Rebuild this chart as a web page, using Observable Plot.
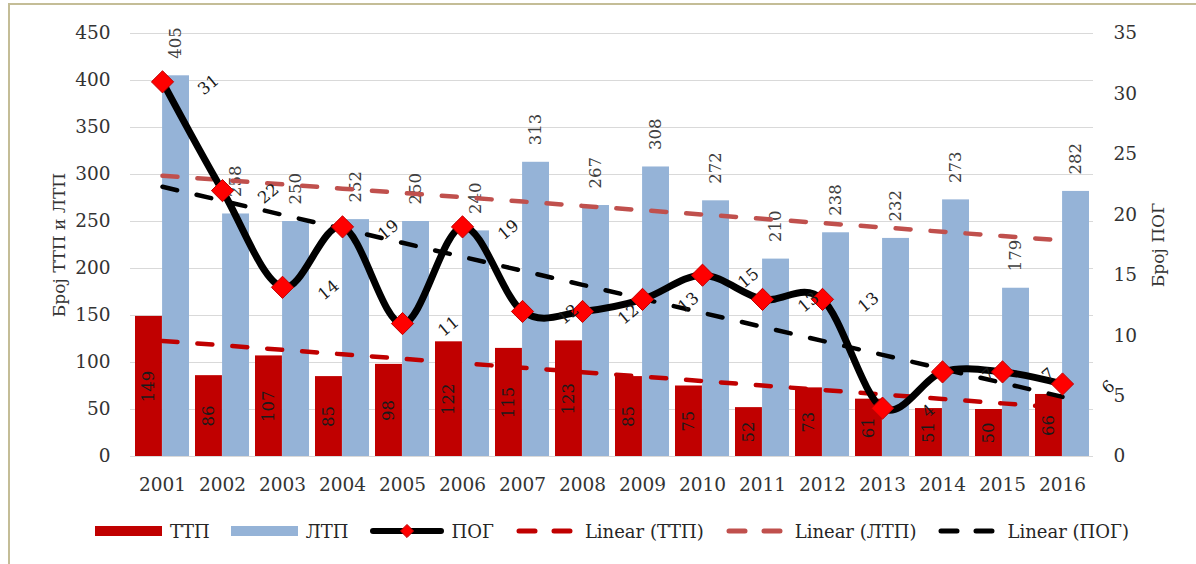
<!DOCTYPE html>
<html><head><meta charset="utf-8">
<script src="https://cdn.jsdelivr.net/npm/d3@7"></script>
<script src="https://cdn.jsdelivr.net/npm/@observablehq/plot@0.6"></script>
<style>
body{margin:0;background:#fff;}
#wrap{position:relative;width:1196px;height:564px;overflow:hidden;background:#fff;font-family:"DejaVu Serif",serif;}
#frame{position:absolute;left:8px;top:3px;width:1300px;height:700px;border-top:2px solid #c4bd97;border-left:2px solid #c4bd97;}
#chart{position:absolute;left:0;top:0;}
#legend{position:absolute;left:0;top:518px;width:1196px;height:26px;display:flex;justify-content:center;align-items:center;padding-left:28px;box-sizing:border-box;font-size:18px;color:#262626;}
.item{display:flex;align-items:center;margin-right:21px;}
.item:last-child{margin-right:0;}
.item svg{margin-right:8px;display:block;}
</style></head>
<body><div id="wrap"><div id="frame"></div><div id="chart"></div><div id="legend"></div></div>
<script>
const years = ["2001","2002","2003","2004","2005","2006","2007","2008","2009","2010","2011","2012","2013","2014","2015","2016"];
const ttp = [149, 86, 107, 85, 98, 122, 115, 123, 85, 75, 52, 73, 61, 51, 50, 66];
const ltp = [405, 258, 250, 252, 250, 240, 313, 267, 308, 272, 210, 238, 232, 273, 179, 282];
const pog = [31, 22, 14, 19, 11, 19, 12, 12, 13, 15, 13, 13, 4, 7, 7, 6];
const leftTicks = [0, 50, 100, 150, 200, 250, 300, 350, 400, 450];
const rightTicks = [0, 5, 10, 15, 20, 25, 30, 35];
const leftMax = 450, rightMax = 35;
const k = leftMax / rightMax;

function trend(vals) {
  const n = vals.length;
  const mx = (n - 1) / 2;
  const my = d3.mean(vals);
  let sxy = 0, sxx = 0;
  vals.forEach((v, i) => { sxy += (i - mx) * (v - my); sxx += (i - mx) ** 2; });
  const b = sxy / sxx;
  return vals.map((_, i) => my + b * (i - mx));
}
const ttpT = trend(ttp), ltpT = trend(ltp), pogT = trend(pog);
const rows = years.map((year, i) => ({
  year, ttp: ttp[i], ltp: ltp[i], pog: pog[i] * k, pogVal: pog[i],
  ttpT: ttpT[i], ltpT: ltpT[i], pogT: pogT[i] * k
}));

const W = 1196, H = 500, mL = 130, mR = 103, mT = 33, mB = 44;
const pi = 0.1, po = 0.05;
const step = (W - mL - mR) / (years.length - pi + 2 * po);
const half = step * (1 - pi) / 2;

const RED = "#c00000", BLUE = "#95b3d7", TREND2 = "#c0504d";
const dash = {strokeWidth: 4.5, strokeDasharray: "15,20", strokeLinecap: "round"};

const chart = Plot.plot({
  width: W, height: H,
  marginLeft: mL, marginRight: mR, marginTop: mT, marginBottom: mB,
  style: {fontFamily: "DejaVu Serif", color: "#333", background: "transparent"},
  x: {type: "band", domain: years, paddingInner: pi, paddingOuter: po},
  y: {domain: [0, leftMax]},
  marks: [
    Plot.gridY(leftTicks, {stroke: "#d9d9d9", strokeOpacity: 1}),
    Plot.barY(rows, {x: "year", y: "ttp", fill: RED, insetRight: half}),
    Plot.barY(rows, {x: "year", y: "ltp", fill: BLUE, insetLeft: half}),
    Plot.text(rows, {x: "year", y: d => d.ttp / 2, text: d => String(d.ttp), dx: -half / 2, rotate: -90, fontSize: 16.5, fill: "#1a1a1a"}),
    Plot.text(rows, {x: "year", y: "ltp", text: d => String(d.ltp), dx: half / 2, dy: -17, rotate: -90, textAnchor: "start", fontSize: 16.5, fill: "#404040"}),
    Plot.line(rows, {x: "year", y: "ttpT", stroke: RED, ...dash}),
    Plot.line(rows, {x: "year", y: "ltpT", stroke: TREND2, ...dash}),
    Plot.line(rows, {x: "year", y: "pogT", stroke: "#000", ...dash}),
    Plot.line(rows, {x: "year", y: "pog", stroke: "#000", strokeWidth: 7, curve: d3.curveCatmullRom.alpha(0)}),
    Plot.dot(rows, {x: "year", y: "pog", symbol: "diamond2", r: 10, fill: "#ff0000", stroke: RED, strokeWidth: 1}),
    Plot.text(rows, {x: "year", y: "pog", text: d => String(d.pogVal), dx: 46, dy: 3, rotate: -40, fontSize: 16.5, fill: "#1a1a1a"}),
    Plot.axisX({tickSize: 0, tickPadding: 21, fontSize: 18.5, label: null}),
    Plot.axisY(leftTicks, {anchor: "left", tickSize: 0, tickPadding: 20, fontSize: 18.5, label: null}),
    Plot.axisY(rightTicks.map(v => v * k), {anchor: "right", tickSize: 0, tickPadding: 20, fontSize: 18.5, label: null, tickFormat: d => String(Math.round(d / k))}),
    Plot.text(["Број ТТП и ЛТП"], {frameAnchor: "left", textAnchor: "middle", dx: -71, rotate: -90, fontSize: 17, fill: "#333"}),
    Plot.text(["Број ПОГ"], {frameAnchor: "right", textAnchor: "middle", dx: 65, rotate: -90, fontSize: 17, fill: "#333"})
  ]
});
document.getElementById("chart").appendChild(chart);

// legend
const legendItems = [
  {label: "ТТП", kind: "bar", color: RED},
  {label: "ЛТП", kind: "bar", color: BLUE},
  {label: "ПОГ", kind: "marker", color: "#000"},
  {label: "Linear (ТТП)", kind: "dash", color: RED},
  {label: "Linear (ЛТП)", kind: "dash", color: TREND2},
  {label: "Linear (ПОГ)", kind: "dash", color: "#000"}
];
const legend = d3.select("#legend");
legendItems.forEach(it => {
  const item = legend.append("div").attr("class", "item");
  const w = it.kind === "bar" ? 67 : it.kind === "marker" ? 74 : 62;
  const svg = item.append("svg").attr("width", w).attr("height", 24);
  if (it.kind === "bar") {
    svg.append("rect").attr("x", 0).attr("y", 7).attr("width", w).attr("height", 10).attr("fill", it.color);
  } else if (it.kind === "marker") {
    svg.append("line").attr("x1", 3).attr("x2", w - 3).attr("y1", 12).attr("y2", 12)
      .attr("stroke", "#000").attr("stroke-width", 6).attr("stroke-linecap", "round");
    svg.append("path").attr("d", d3.symbol(d3.symbolDiamond2, 110)()).attr("transform", `translate(${w / 2},12)`)
      .attr("fill", "#ff0000").attr("stroke", RED);
  } else {
    svg.append("line").attr("x1", 4).attr("x2", w - 4).attr("y1", 12).attr("y2", 12)
      .attr("stroke", it.color).attr("stroke-width", 5).attr("stroke-dasharray", "16,19").attr("stroke-linecap", "round");
  }
  item.append("span").text(it.label);
});
</script></body></html>
